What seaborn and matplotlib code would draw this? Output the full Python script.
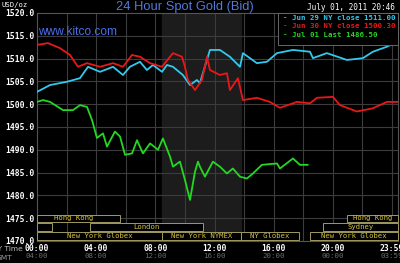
import matplotlib
matplotlib.use("Agg")
import matplotlib.pyplot as plt
import seaborn as sns
import pandas as pd
from matplotlib.patches import Rectangle

# ---- data ----
cyan_hours = [0.0, 0.88, 2.0, 2.9, 3.45, 4.26, 5.14, 5.81, 6.28, 6.96, 7.43, 7.84, 8.45, 8.78, 9.19,
              9.86, 10.34, 10.81, 11.01, 11.69, 12.36, 13.04, 13.72, 13.92, 14.86, 15.54, 16.22,
              17.30, 18.45, 18.65, 19.59, 20.95, 22.03, 22.70, 23.65, 24.32]
cyan_prices = [1502.7, 1504.2, 1504.9, 1505.7, 1508.2, 1507.1, 1508.2, 1506.4, 1508.2, 1509.3, 1507.5,
               1508.6, 1507.1, 1508.6, 1508.2, 1506.4, 1504.2, 1505.3, 1504.6, 1511.9, 1511.9, 1510.4,
               1508.2, 1511.2, 1509.0, 1509.3, 1511.2, 1511.9, 1511.5, 1510.1, 1511.2, 1509.7, 1510.1,
               1511.5, 1512.6, 1513.7]

red_hours = [0.0, 0.74, 1.55, 2.23, 2.77, 3.38, 4.26, 5.14, 5.81, 6.42, 6.96, 7.64, 8.45, 9.19, 9.80,
             10.0, 10.20, 10.68, 11.15, 11.49, 11.69, 12.36, 12.84, 13.04, 13.58, 13.92, 14.86, 15.74,
             16.42, 17.57, 18.45, 18.92, 20.0, 20.47, 21.62, 22.70, 23.65, 24.39]
red_prices = [1513.0, 1513.4, 1512.3, 1510.8, 1508.2, 1509.0, 1508.2, 1509.0, 1508.2, 1510.8, 1510.4,
              1509.0, 1508.2, 1511.2, 1510.4, 1508.2, 1505.3, 1503.1, 1505.3, 1510.4, 1507.5, 1506.4,
              1506.8, 1503.1, 1505.7, 1500.9, 1501.4, 1500.5, 1499.2, 1500.5, 1500.2, 1501.4, 1501.6,
              1499.8, 1498.4, 1499.1, 1500.5, 1500.5]

green_hours = [0.0, 0.41, 0.88, 1.76, 2.43, 2.91, 3.38, 3.72, 4.05, 4.46, 4.73, 5.27, 5.61, 5.95, 6.42,
               6.76, 7.16, 7.64, 8.18, 8.51, 8.99, 9.19, 9.66, 10.0, 10.34, 10.68, 10.88, 11.01, 11.35,
               11.89, 12.36, 12.84, 13.24, 13.72, 14.19, 14.59, 15.20, 16.22, 16.42, 17.30, 17.77, 18.31]
green_prices = [1500.5, 1500.9, 1500.5, 1498.7, 1498.7, 1499.8, 1499.4, 1496.5, 1492.6, 1493.6, 1490.7,
                1494.0, 1492.9, 1488.9, 1489.2, 1492.1, 1489.2, 1491.4, 1490.0, 1492.5, 1488.5, 1486.3,
                1487.4, 1483.4, 1479.0, 1485.2, 1487.4, 1486.3, 1484.1, 1487.4, 1486.3, 1484.8, 1485.9,
                1484.1, 1483.7, 1484.8, 1486.7, 1487.0, 1485.9, 1488.1, 1486.7, 1486.7]

series_names = ["Jun 29 NY close 1511.00", "Jun 30 NY close 1500.30", "Jul 01 Last 1486.50"]
series_colors = ["#33c8ec", "#e81818", "#22d822"]

y_ticks = [1470, 1475, 1480, 1485, 1490, 1495, 1500, 1505, 1510, 1515, 1520]
x_ticks = [0, 4, 8, 12, 16, 20, 23.983]
ny_labels = ["00:00", "04:00", "08:00", "12:00", "16:00", "20:00", "23:59"]
gmt_labels = ["04:00", "08:00", "12:00", "16:00", "20:00", "00:00", "03:59"]

# sessions: name, start hour, end hour, row (0 top, 2 bottom)
session_names = ["Hong Kong", "", "London", "New York Globex", "New York NYMEX", "NY Globex",
                 "Sydney", "Hong Kong", "New York Globex"]
session_start = [0.0, 0.0, 3.6, 0.0, 8.45, 13.8, 19.3, 20.95, 18.45]
session_end = [5.6, 1.0, 11.2, 8.45, 13.8, 17.7, 24.4, 24.4, 24.4]
session_row = [0, 1, 1, 2, 2, 2, 1, 0, 2]

# ---- build ----
frames = []
for name, h, p in zip(series_names, [cyan_hours, red_hours, green_hours],
                      [cyan_prices, red_prices, green_prices]):
    frames.append(pd.DataFrame({"hour": h, "price": p, "series": name}))
df = pd.concat(frames, ignore_index=True)

sns.set_style("dark")
plt.rcParams["font.family"] = ["DejaVu Sans"]
fig = plt.figure(figsize=(4.0, 2.63), dpi=100, facecolor="black")
ax = fig.add_axes([0.0925, 0.0837, 0.9025, 0.8669])
ax.set_facecolor("black")

ax.set_xlim(0, 24.4)
ax.set_ylim(1470, 1520)

# shaded NYMEX session
ax.axvspan(8.45, 13.8, color="#1c1c1c", zorder=0)

# grid
for gx in range(2, 25, 2):
    ax.axvline(gx, color="#3c3c3c", lw=0.8, zorder=1)
for gy in y_ticks[1:-1]:
    ax.axhline(gy, color="#3c3c3c", lw=0.8, zorder=1)

sns.lineplot(data=df, x="hour", y="price", hue="series", palette=series_colors,
             hue_order=series_names, ax=ax, lw=1.3, legend=False, zorder=3, sort=False)

# session boxes
row_tops = [1475.8, 1473.85, 1471.9]
row_h = 1.6
yellow = "#d8c43c"
for name, s, e, r in zip(session_names, session_start, session_end, session_row):
    y0 = row_tops[r] - row_h
    ax.add_patch(Rectangle((s, y0), e - s, row_h, fill=True, facecolor="black",
                           edgecolor="#a09a60", lw=0.7, zorder=4, clip_on=False))
    if name:
        ax.text((s + e) / 2 if r != 0 or s > 10 else s + 2.5, y0 + row_h / 2, name,
                color=yellow, fontsize=5.2, family="DejaVu Sans Mono",
                ha="center", va="center", zorder=5)

ax.set_yticks(y_ticks)
ax.set_yticklabels([f"{v:.1f}" for v in y_ticks], color="white", fontsize=5.8,
                   family="DejaVu Sans Mono", fontweight="bold")
ax.set_xticks(x_ticks)
ax.set_xticklabels(ny_labels, color="white", fontsize=5.8, family="DejaVu Sans Mono",
                   fontweight="bold")
ax.tick_params(length=0, pad=2)
ax.set_xlabel("")
ax.set_ylabel("")
for sp in ax.spines.values():
    sp.set_color("#555555")
    sp.set_linewidth(0.8)

# GMT labels
for xt, lab in zip(x_ticks, gmt_labels):
    ax.text(xt, -0.068, lab, transform=ax.get_xaxis_transform(), color="#6a6a6a",
            fontsize=5.4, family="DejaVu Sans Mono", ha="center", va="center")
fig.text(0.057, 1 - 249 / 263, "NY Time", color="#bbbbbb", fontsize=5.4, ha="right", va="center")
fig.text(0.032, 1 - 258 / 263, "GMT", color="#999999", fontsize=5.4, ha="right", va="center")

# titles
fig.text(0.462, 0.972, "24 Hour Spot Gold (Bid)", color="#5478dc", fontsize=9.3,
         ha="center", va="center", family="Liberation Sans")
fig.text(0.003, 0.982, "USD/oz", color="white", fontsize=5.2, family="DejaVu Sans Mono",
         ha="left", va="center")
fig.text(0.988, 0.97, "July 01, 2011 20:46", color="white", fontsize=5.6,
         family="DejaVu Sans Mono", ha="right", va="center")
fig.text(0.095, 0.878, "www.kitco.com", color="#4a6ee8", fontsize=8.6,
         family="Liberation Sans", ha="left", va="center")

# legend box
lx0, lx1 = 278 / 400, 398 / 400
ly0, ly1 = 1 - 45 / 263, 1 - 13 / 263
fig.patches.append(Rectangle((lx0, ly0), lx1 - lx0, ly1 - ly0, transform=fig.transFigure,
                             facecolor="black", edgecolor="#666666", lw=0.7, zorder=5))
for i, (name, col) in enumerate(zip(series_names, series_colors)):
    fig.text(283 / 400, 1 - (17.5 + 8.5 * i) / 263, "- " + name, color=col, fontsize=5.3,
             family="DejaVu Sans Mono", fontweight="bold", ha="left", va="center", zorder=6)

fig.savefig("out.png", dpi=100, facecolor="black")
